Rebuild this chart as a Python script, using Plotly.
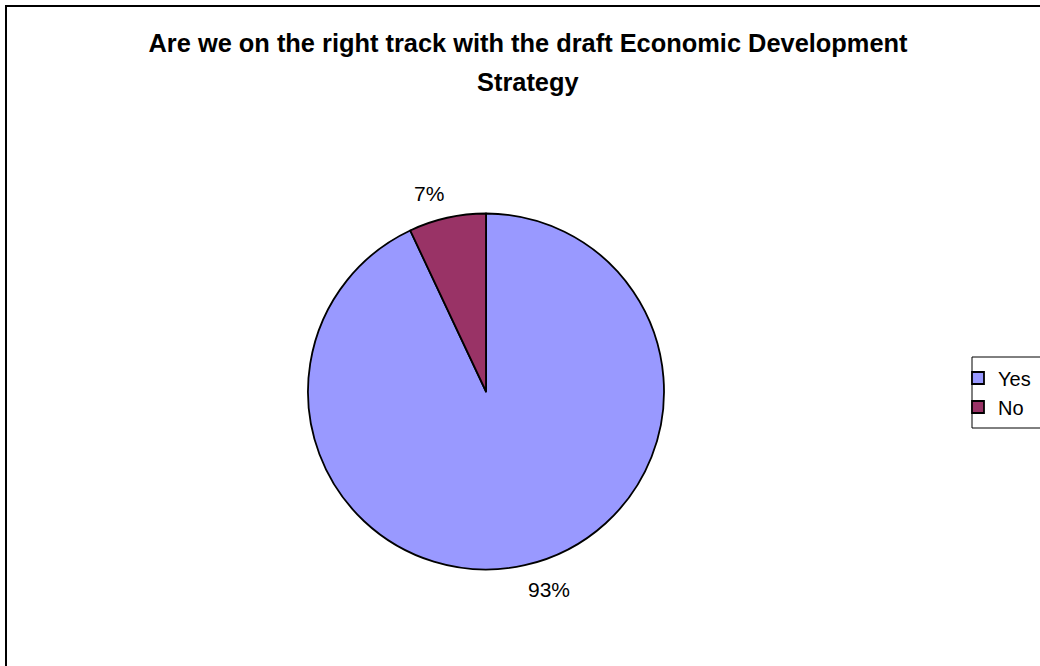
import math
import plotly.graph_objects as go

categories = ["Yes", "No"]
values = [93, 7]
colors = ["#9999FF", "#993366"]

W, H = 1040, 666
FONT = "Liberation Sans, Arial, sans-serif"

# pie geometry (pixels)
cx, cy, r = 486, 391.5, 178
label_gap = 12

fig = go.Figure(go.Pie(
    labels=categories,
    values=values,
    sort=False,
    direction="clockwise",
    rotation=0,
    marker=dict(colors=colors, line=dict(color="black", width=1.8)),
    textinfo="none",
    domain=dict(x=[(cx - r) / W, (cx + r) / W], y=[1 - (cy + r) / H, 1 - (cy - r) / H]),
    hoverinfo="label+percent",
    showlegend=True,
))

# outside percentage labels, corner placed on the slice's mid-angle ray
annotations = []
total = sum(values)
cum = 0
for v in values:
    mid = (cum + v / 2) / total * 2 * math.pi
    cum += v
    s, c = math.sin(mid), math.cos(mid)
    px = cx + (r + label_gap) * s
    py = cy - (r + label_gap) * c
    annotations.append(dict(
        text=f"{round(v / total * 100)}%",
        x=px / W, y=1 - py / H, xref="paper", yref="paper",
        xanchor="left" if s >= 0 else "right",
        yanchor="bottom" if c >= 0 else "top",
        showarrow=False, borderpad=0,
        font=dict(family=FONT, size=21, color="black"),
    ))

annotations.append(dict(
    text="<b>Strategy</b>", x=528 / W, y=1 - 66 / H, xref="paper", yref="paper",
    xanchor="center", yanchor="top", showarrow=False,
    font=dict(family=FONT, size=25.4, color="black"),
))

fig.update_layout(
    width=W, height=H,
    margin=dict(l=0, r=0, t=0, b=0, autoexpand=False),
    paper_bgcolor="white",
    plot_bgcolor="white",
    font=dict(family=FONT, color="black"),
    title=dict(
        text="<b>Are we on the right track with the draft Economic Development</b>",
        x=528 / W, xanchor="center", y=1 - 34 / H, yanchor="top",
        font=dict(family=FONT, size=25.4, color="black"),
    ),
    annotations=annotations,
    legend=dict(
        x=958 / W, xanchor="left", y=1 - 392.5 / H, yanchor="middle",
        borderwidth=0, bgcolor="rgba(0,0,0,0)",
        font=dict(family=FONT, size=20, color="black"),
    ),
    shapes=[
        dict(
            type="rect", xref="paper", yref="paper",
            x0=6 / W, x1=1.05, y0=-0.05, y1=1 - 6 / H,
            line=dict(color="black", width=2), layer="below",
        ),
        dict(
            type="rect", xref="paper", yref="paper",
            x0=972 / W, x1=1.05, y0=1 - 428 / H, y1=1 - 357 / H,
            line=dict(color="black", width=1), fillcolor="white", layer="below",
        ),
    ],
)

fig.write_html("out.html")
